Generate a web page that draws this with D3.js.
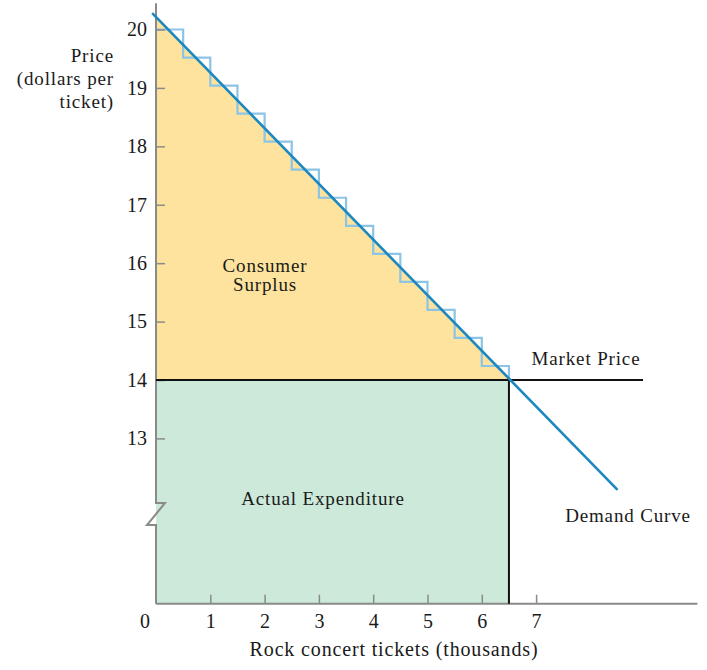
<!DOCTYPE html>
<html><head><meta charset="utf-8">
<script src="https://cdn.jsdelivr.net/npm/d3@7"></script>
<style>
body{margin:0;background:#fff;}
text{font-family:"Liberation Serif","Times New Roman",serif;fill:#1a1a1a;}
</style></head>
<body>
<svg id="chart" width="707" height="670"></svg>
<script>
// ---- data ----
const xTicks = [1, 2, 3, 4, 5, 6, 7];
const yTicks = [13, 14, 15, 16, 17, 18, 19, 20];
const marketPrice = 14;
const quantity = 6.5;
const demandQ = [-0.07, 8.5];
const demandP = [20.28, 12.12];
const stepQ = [0, 0.5, 1, 1.5, 2, 2.5, 3, 3.5, 4, 4.5, 5, 5.5, 6];
const stepP = [20, 19.52, 19.04, 18.56, 18.08, 17.6, 17.12, 16.64, 16.16, 15.68, 15.2, 14.72, 14.24];
const stepWidth = 0.5;
const marketLineEnd = 8.97;
const xAxisEnd = 9.97;
const yAxisTop = 20.45;
const yBottom = 10.17;

// ---- scales ----
const svg = d3.select("#chart");
const x = d3.scaleLinear().domain([0, 10]).range([156, 699]);
const y = d3.scaleLinear().domain([14, 20]).range([380, 29.5]);
const yb = y(yBottom);

// fills
const demandAt = q => demandP[0] + (demandP[1] - demandP[0]) * (q - demandQ[0]) / (demandQ[1] - demandQ[0]);
svg.append("path")
  .attr("d", d3.line()([[x(0), y(demandAt(0))], [x(quantity), y(marketPrice)], [x(0), y(marketPrice)]]) + "Z")
  .attr("fill", "#fde39d");
svg.append("rect")
  .attr("x", x(0)).attr("y", y(marketPrice))
  .attr("width", x(quantity) - x(0)).attr("height", yb - y(marketPrice))
  .attr("fill", "#cce9da");

// stairs
const stairPts = [];
stepQ.forEach((q, i) => {
  stairPts.push([x(q), y(stepP[i])]);
  stairPts.push([x(q + stepWidth), y(stepP[i])]);
});
stairPts.push([x(quantity), y(marketPrice)]);
svg.append("path").attr("d", d3.line()(stairPts))
  .attr("fill", "none").attr("stroke", "#8cc4e6").attr("stroke-width", 2.2);

// axes
const xAxis = d3.axisBottom(x).tickValues(xTicks).tickSizeInner(-9).tickSizeOuter(0).tickPadding(10).tickFormat(d3.format("d"));
const gx = svg.append("g").attr("transform", `translate(0,${yb})`).call(xAxis);
gx.select(".domain").remove();
gx.selectAll(".tick line").attr("stroke", "#8a8a8a").attr("stroke-width", 1.5);
gx.selectAll(".tick text").attr("font-size", 20).attr("font-family", "Liberation Serif").attr("fill", "#1a1a1a");
svg.append("line").attr("x1", x(0)).attr("x2", x(xAxisEnd)).attr("y1", yb).attr("y2", yb)
  .attr("stroke", "#8a8a8a").attr("stroke-width", 2);
svg.append("text").attr("x", x(0) - 11).attr("y", yb + 24).attr("text-anchor", "middle")
  .attr("font-size", 20).text("0");

const yAxis = d3.axisLeft(y).tickValues(yTicks).tickSizeInner(-9).tickSizeOuter(0).tickPadding(9).tickFormat(d3.format("d"));
const gy = svg.append("g").attr("transform", `translate(${x(0)},0)`).call(yAxis);
gy.select(".domain").remove();
gy.selectAll(".tick line").attr("stroke", "#8a8a8a").attr("stroke-width", 1.5);
gy.selectAll(".tick text").attr("font-size", 20).attr("font-family", "Liberation Serif").attr("fill", "#1a1a1a");

// broken y axis line
const x0 = x(0);
svg.append("path")
  .attr("d", `M${x0},${y(yAxisTop)}V503H${x0 + 9}L${x0 - 9},525H${x0}V${yb}`)
  .attr("fill", "none").attr("stroke", "#8a8a8a").attr("stroke-width", 2).attr("stroke-linejoin", "miter");

// market price & quantity lines
svg.append("line").attr("x1", x(0)).attr("x2", x(marketLineEnd)).attr("y1", y(marketPrice)).attr("y2", y(marketPrice))
  .attr("stroke", "#111").attr("stroke-width", 2);
svg.append("line").attr("x1", x(quantity)).attr("x2", x(quantity)).attr("y1", y(marketPrice)).attr("y2", yb)
  .attr("stroke", "#111").attr("stroke-width", 2);

// demand curve
svg.append("line").attr("x1", x(demandQ[0])).attr("y1", y(demandP[0]))
  .attr("x2", x(demandQ[1])).attr("y2", y(demandP[1]))
  .attr("stroke", "#1d87c0").attr("stroke-width", 2.6);

// labels
const lab = (t, xx, yy, anchor, size) => svg.append("text").attr("x", xx).attr("y", yy)
  .attr("text-anchor", anchor).attr("font-size", size).attr("letter-spacing", "0.85px").text(t);
lab("Price", 114, 62, "end", 19);
lab("(dollars per", 114, 85, "end", 19);
lab("ticket)", 114, 108, "end", 19);
lab("Consumer", 265, 272, "middle", 19);
lab("Surplus", 265, 291, "middle", 19);
lab("Actual Expenditure", 323, 505, "middle", 19);
lab("Market Price", 586, 365, "middle", 19);
lab("Demand Curve", 628, 522, "middle", 19);
lab("Rock concert tickets (thousands)", 394, 656, "middle", 20);
</script>
</body></html>
